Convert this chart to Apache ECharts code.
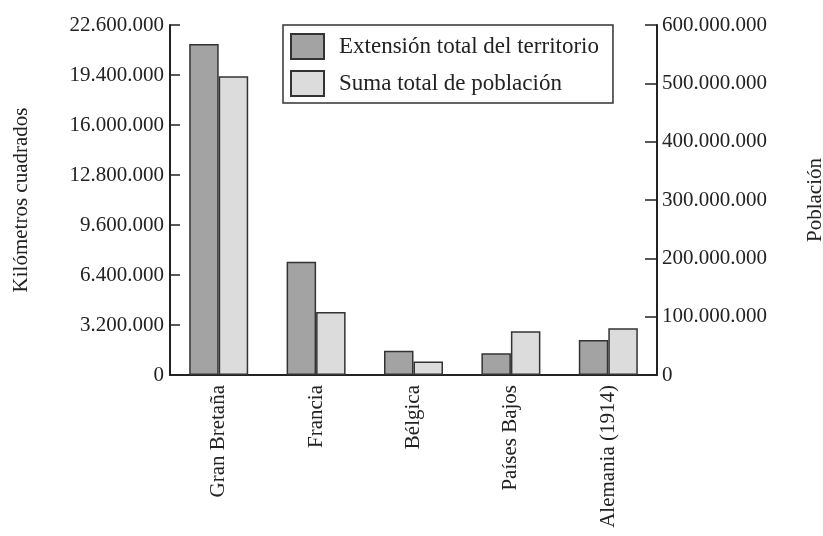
<!DOCTYPE html>
<html>
<head>
<meta charset="utf-8">
<script src="https://cdn.jsdelivr.net/npm/echarts@6/dist/echarts.min.js"></script>
<style>
  html, body { margin: 0; padding: 0; background: #fff; }
  #chart { width: 823px; height: 536px; }
</style>
</head>
<body>
<div id="chart"></div>
<script>
const categories = ["Gran Bretaña", "Francia", "Bélgica", "Países Bajos", "Alemania (1914)"];
const territorio = [21180000, 7250000, 1560000, 1390000, 2240000];
const poblacion = [512000000, 108000000, 23000000, 75000000, 80000000];
const leftTickLabels = ["0", "3.200.000", "6.400.000", "9.600.000", "12.800.000", "16.000.000", "19.400.000", "22.600.000"];
const rightTickLabels = ["0", "100.000.000", "200.000.000", "300.000.000", "400.000.000", "500.000.000", "600.000.000"];
const seriesNames = ["Extensión total del territorio", "Suma total de población"];
const leftTitle = "Kilómetros cuadrados";
const rightTitle = "Población";

const FONT = "Liberation Serif";
const leftStep = 3200000;
const rightStep = 100000000;

const chart = echarts.init(document.getElementById('chart'));
chart.setOption({
  animation: false,
  backgroundColor: '#fff',
  textStyle: { fontFamily: FONT, color: '#222' },
  grid: { left: 170, right: 166, top: 25, bottom: 161, containLabel: false, outerBoundsMode: 'none' },
  legend: {
    left: 283, top: 25, orient: 'vertical',
    padding: [8, 14, 6, 7],
    itemGap: 10, itemWidth: 33, itemHeight: 25,
    borderColor: '#333', borderWidth: 1.5,
    icon: 'rect',
    textStyle: { fontFamily: FONT, fontSize: 23, color: '#222', padding: [0, 0, 0, 10] },
    data: seriesNames
  },
  xAxis: {
    type: 'category',
    data: categories,
    axisLine: { lineStyle: { color: '#222', width: 2 } },
    axisTick: { show: false },
    axisLabel: { rotate: 90, margin: 10, fontFamily: FONT, fontSize: 21, color: '#222' }
  },
  yAxis: [
    {
      type: 'value', min: 0, max: leftStep * (leftTickLabels.length - 1), interval: leftStep,
      name: leftTitle, nameLocation: 'middle', nameRotate: 90, nameGap: 138,
      nameTextStyle: { fontFamily: FONT, fontSize: 21, color: '#222' },
      axisLine: { show: true, lineStyle: { color: '#222', width: 2 } },
      axisTick: { show: true, inside: true, length: 10, lineStyle: { color: '#222', width: 1.5 } },
      splitLine: { show: false },
      axisLabel: {
        margin: 6, fontFamily: FONT, fontSize: 21, color: '#222',
        formatter: v => leftTickLabels[Math.round(v / leftStep)]
      }
    },
    {
      type: 'value', min: 0, max: rightStep * (rightTickLabels.length - 1), interval: rightStep,
      name: rightTitle, nameLocation: 'middle', nameRotate: 90, nameGap: 148,
      nameTextStyle: { fontFamily: FONT, fontSize: 21, color: '#222' },
      axisLine: { show: true, lineStyle: { color: '#222', width: 2 } },
      axisTick: { show: true, inside: true, length: 12, lineStyle: { color: '#222', width: 1.5 } },
      splitLine: { show: false },
      axisLabel: {
        margin: 5, fontFamily: FONT, fontSize: 21, color: '#222',
        formatter: v => rightTickLabels[Math.round(v / rightStep)]
      }
    }
  ],
  series: [
    {
      name: seriesNames[0], type: 'bar', yAxisIndex: 0, data: territorio,
      barWidth: 29.5, barGap: '0%',
      itemStyle: { color: '#a3a3a3', borderColor: '#333', borderWidth: 1.5 }
    },
    {
      name: seriesNames[1], type: 'bar', yAxisIndex: 1, data: poblacion,
      barWidth: 29.5, barGap: '0%',
      itemStyle: { color: '#dcdcdc', borderColor: '#333', borderWidth: 1.5 }
    }
  ]
});
</script>
</body>
</html>
